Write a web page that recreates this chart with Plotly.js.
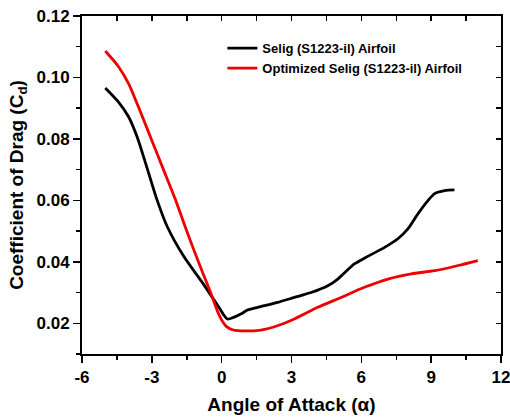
<!DOCTYPE html>
<html>
<head>
<meta charset="utf-8">
<script src="https://cdn.plot.ly/plotly-3.0.1.min.js"></script>
<style>html,body{margin:0;padding:0;background:#fff;}#chart{width:510px;height:417px;}</style>
</head>
<body>
<div id="chart"></div>
<script>
// Selig (S1223-il) Airfoil
const seligAlpha = [-5.0, -4.43, -4.0, -3.63, -3.2, -2.77, -2.34, -1.63, -0.76, -0.12, 0.25, 0.82, 1.11, 1.68, 2.4, 3.12, 3.84, 4.56, 4.99, 5.7, 6.21, 7.0, 7.57, 8.0, 8.43, 8.87, 9.15, 9.58, 10.0];
const seligCd = [0.0966, 0.0920, 0.0872, 0.0806, 0.0704, 0.0600, 0.0515, 0.0418, 0.0325, 0.0252, 0.0214, 0.0230, 0.0243, 0.0254, 0.0268, 0.0284, 0.0300, 0.0322, 0.0344, 0.0393, 0.0415, 0.0447, 0.0475, 0.0507, 0.0556, 0.0600, 0.0622, 0.0632, 0.0634];
// Optimized Selig (S1223-il) Airfoil
const optAlpha = [-5.0, -4.43, -4.0, -3.5, -3.0, -2.5, -2.0, -1.5, -1.0, -0.5, -0.1, 0.2, 0.5, 1.0, 1.68, 2.4, 3.12, 4.13, 5.13, 6.13, 7.14, 8.15, 9.15, 10.16, 11.0];
const optCd = [0.1086, 0.1035, 0.0980, 0.0890, 0.0795, 0.0700, 0.0605, 0.0500, 0.0400, 0.0305, 0.0225, 0.0190, 0.0178, 0.0175, 0.0178, 0.0192, 0.0214, 0.0252, 0.0284, 0.0317, 0.0344, 0.0361, 0.0371, 0.0388, 0.0404];
const seriesNames = ["Selig (S1223-il) Airfoil", "Optimized Selig (S1223-il) Airfoil"];
const xTickVals = [-6, -3, 0, 3, 6, 9, 12];
const xTickText = ["-6", "-3", "0", "3", "6", "9", "12"];
const xTitle = "Angle of Attack (α)";
const yTitle = "Coefficient of Drag (C<sub>d</sub>)";

const FONT = "Liberation Sans, Arial, sans-serif";
const xr = [-6, 12], yr = [0.01, 0.12];

const data = [
  {x: seligAlpha, y: seligCd, name: seriesNames[0], type: "scatter", mode: "lines",
   line: {color: "#000000", width: 2.8, shape: "spline", smoothing: 0.7}},
  {x: optAlpha, y: optCd, name: seriesNames[1], type: "scatter", mode: "lines",
   xaxis: "x2", yaxis: "y2",
   line: {color: "#ee0000", width: 2.8, shape: "spline", smoothing: 0.7}}
];

const tickFont = {family: FONT, size: 17, color: "#000", weight: "bold"};
const layout = {
  width: 510, height: 417,
  margin: {l: 82, r: 9, t: 16, b: 63},
  paper_bgcolor: "#fff", plot_bgcolor: "#fff",
  showlegend: true,
  legend: {x: 0.335, y: 0.949, xanchor: "left", yanchor: "top", bgcolor: "rgba(0,0,0,0)",
           font: {family: FONT, size: 13, color: "#000", weight: "bold"}, tracegroupgap: 0},
  xaxis: {range: xr, tickmode: "array", tickvals: xTickVals, ticktext: xTickText,
          ticks: "outside", ticklen: 7, tickwidth: 1.5, tickcolor: "#000", ticklabeloverflow: "allow",
          showline: true, mirror: true, linewidth: 2, linecolor: "#000", showgrid: false, zeroline: false,
          tickfont: tickFont,
          minor: {dtick: 1.5, tick0: 0, ticks: "outside", ticklen: 4, tickwidth: 1.5, tickcolor: "#000", showgrid: false},
          title: {text: xTitle, font: {family: FONT, size: 19, color: "#000", weight: "bold"}, standoff: 11}},
  yaxis: {range: yr, dtick: 0.02, tick0: 0, ticks: "outside", ticklen: 7, tickwidth: 1.5, tickcolor: "#000",
          showline: true, mirror: true, linewidth: 2, linecolor: "#000", showgrid: false, zeroline: false,
          tickformat: ".2f", tickfont: tickFont, ticklabeloverflow: "allow",
          minor: {dtick: 0.01, ticks: "outside", ticklen: 4, tickwidth: 1.5, tickcolor: "#000", showgrid: false},
          title: {text: yTitle, font: {family: FONT, size: 19, color: "#000", weight: "bold"}, standoff: 8}},
  xaxis2: {overlaying: "x", side: "top", range: xr, dtick: 3, tick0: 0, ticks: "inside", ticklen: 5,
           tickwidth: 1.5, tickcolor: "#000", showline: false,
           showgrid: false, zeroline: false, showticklabels: false,
           minor: {dtick: 1.5, tick0: 0, ticks: "inside", ticklen: 5, tickwidth: 1.5, tickcolor: "#000", showgrid: false}},
  yaxis2: {overlaying: "y", side: "right", range: yr, dtick: 0.02, tick0: 0, ticks: "inside", ticklen: 5,
           tickwidth: 1.5, tickcolor: "#000", showline: false,
           showgrid: false, zeroline: false, showticklabels: false,
           minor: {dtick: 0.01, ticks: "inside", ticklen: 5, tickwidth: 1.5, tickcolor: "#000", showgrid: false}}
};

Plotly.newPlot("chart", data, layout, {displayModeBar: false, staticPlot: true});
</script>
</body>
</html>
